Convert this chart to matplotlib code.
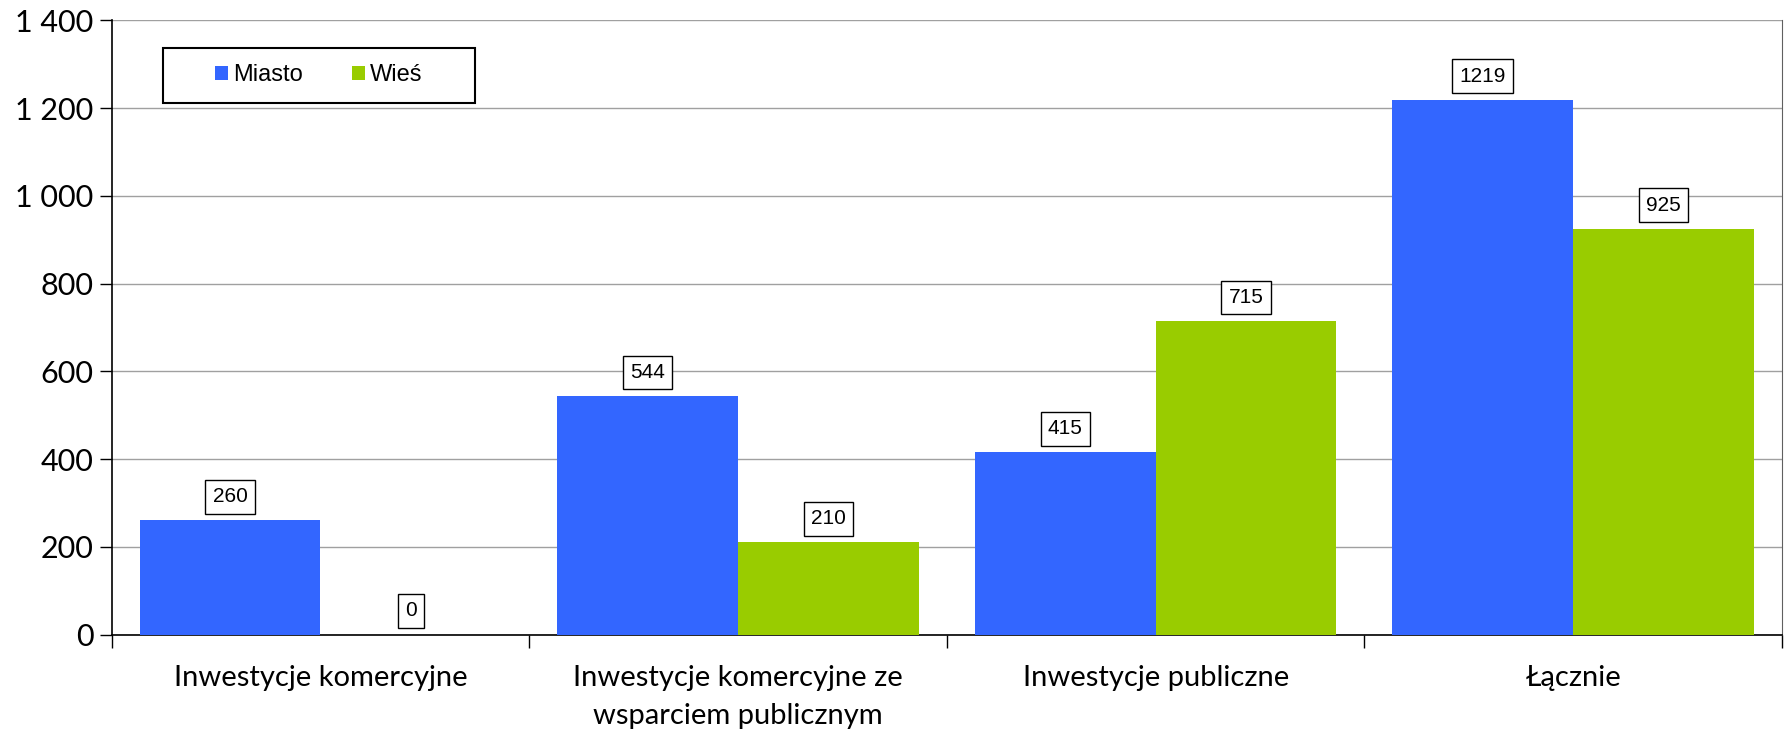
import numpy as np
import matplotlib.pyplot as plt
from matplotlib.patches import Rectangle
from matplotlib.ticker import FuncFormatter

categories = ['Inwestycje komercyjne', 'Inwestycje komercyjne ze\nwsparciem publicznym',
              'Inwestycje publiczne', 'Łącznie']
miasto = [260, 544, 415, 1219]
wies = [0, 210, 715, 925]

blue = '#3366FF'
green = '#99CC00'
tick_font = 'Lato'
label_font = 'Liberation Sans'

fig = plt.figure(figsize=(17.86, 7.31), dpi=100)
ax = fig.add_axes([0.0625, 0.132, 0.9353, 0.840])

x = np.arange(len(categories))
w = 0.433
b1 = ax.bar(x - w / 2, miasto, w, color=blue, label='Miasto', zorder=3)
b2 = ax.bar(x + w / 2, wies, w, color=green, label='Wieś', zorder=3)

# value boxes above bars
for bars, vals in ((b1, miasto), (b2, wies)):
    for r, v in zip(bars, vals):
        ax.annotate(str(v), (r.get_x() + r.get_width() / 2, v), xytext=(0, 17),
                    textcoords='offset points', ha='center', va='center',
                    fontsize=15, family=label_font, zorder=4,
                    bbox=dict(boxstyle='square,pad=0.35', fc='white', ec='black', lw=1))

ax.set_xlim(-0.5, 3.5)
ax.set_ylim(0, 1400)
ax.set_yticks(range(0, 1401, 200))
ax.yaxis.set_major_formatter(FuncFormatter(lambda v, p: f'{int(v):,}'.replace(',', ' ')))
ax.grid(axis='y', color='#a0a0a0', lw=1, zorder=0)

ax.set_xticks(x)
ax.set_xticklabels(categories, family=tick_font, fontsize=21, linespacing=1.55)
ax.set_xticks(np.arange(-0.5, 3.6, 1), minor=True)
ax.tick_params(axis='x', which='major', length=0, pad=22)
ax.tick_params(axis='x', which='minor', length=9, width=1, direction='out')
ax.tick_params(axis='y', length=9, width=1, direction='out', pad=4)
for t in ax.get_yticklabels():
    t.set_family(tick_font)
    t.set_fontsize(22)

ax.spines['top'].set_visible(False)
ax.spines['right'].set_color('#606060')
ax.spines['left'].set_linewidth(1.2)
ax.spines['bottom'].set_linewidth(1.2)

# legend: frame drawn separately so it can be wider than its content
ax.add_patch(Rectangle((0.0308, 0.8655), 0.1868, 0.0895, transform=ax.transAxes,
                       fc='white', ec='black', lw=1.5, zorder=5))
leg = ax.legend(loc='center left', bbox_to_anchor=(0.0619, 0.911), ncol=2,
                prop={'family': label_font, 'size': 17}, frameon=False,
                handlelength=0.55, handleheight=0.55, handletextpad=0.2, columnspacing=2.1,
                borderpad=0, borderaxespad=0)
leg.set_zorder(6)

fig.savefig('out.png', dpi=100)
